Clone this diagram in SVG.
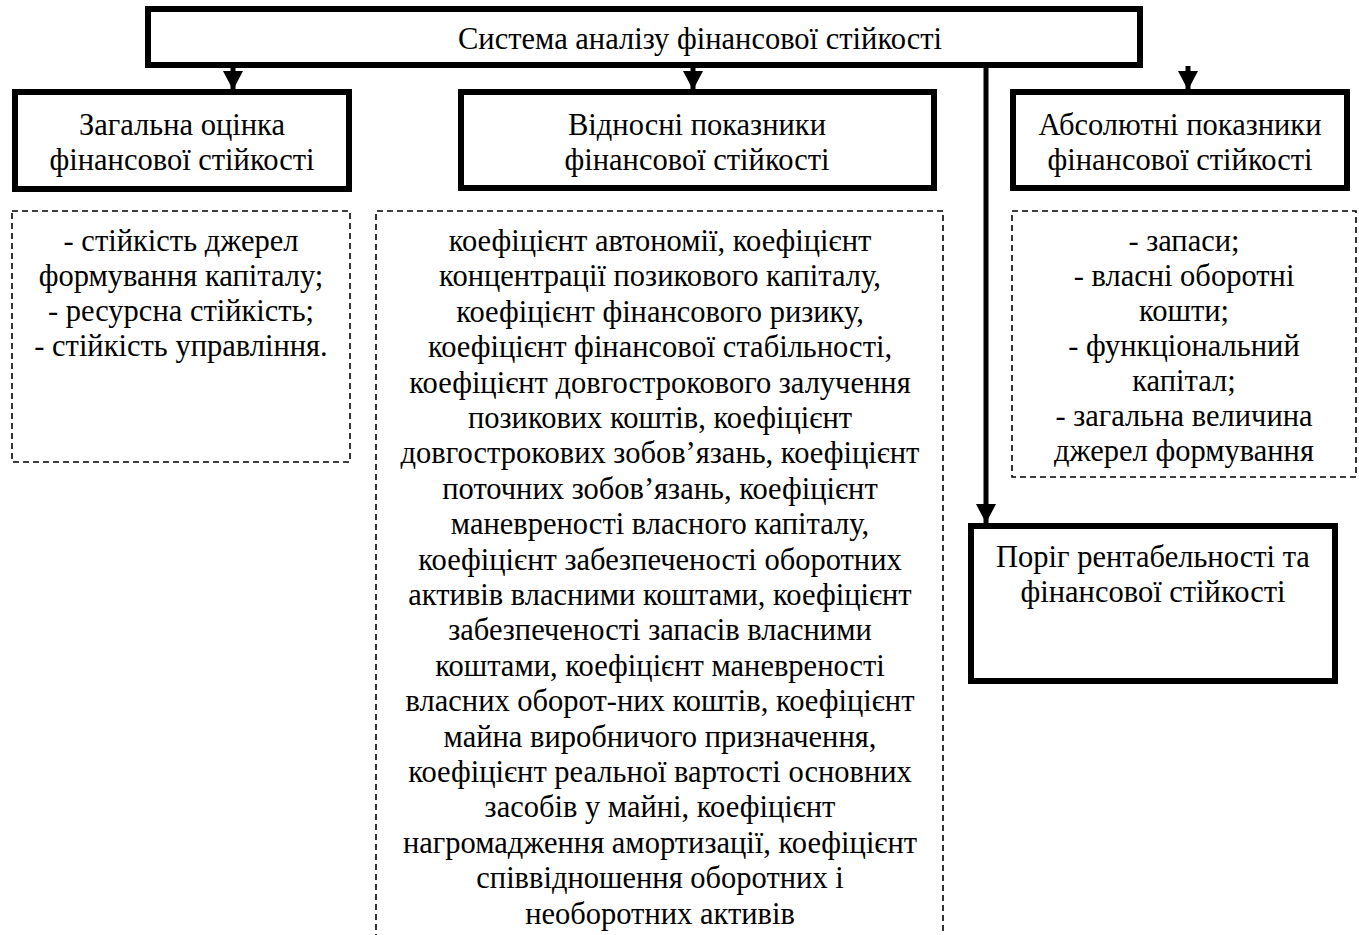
<svg xmlns="http://www.w3.org/2000/svg" width="1359" height="935" viewBox="0 0 1359 935">
<defs>
<style>
.box{fill:#fff;stroke:#000;stroke-width:6}
.dash{fill:none;stroke:#000;stroke-width:1.6;stroke-dasharray:6 4}
.t{font-family:"Liberation Serif","Times New Roman",serif;font-size:30.5px;fill:#000;text-anchor:middle}
.ln{stroke:#000;stroke-width:5;fill:none}
</style>
<marker id="ah" markerUnits="userSpaceOnUse" markerWidth="20" markerHeight="20" viewBox="0 0 18 18" refX="17" refY="9" orient="auto">
<path d="M0,0 L17,9 L0,18 Z" fill="#000"/>
</marker>
</defs>
<rect width="1359" height="935" fill="#fff"/>

<g id="connectors">
<line class="ln" x1="233" y1="66" x2="233" y2="90" marker-end="url(#ah)"/>
<line class="ln" x1="693" y1="66" x2="693" y2="90" marker-end="url(#ah)"/>
<line class="ln" x1="1188" y1="66" x2="1188" y2="90" marker-end="url(#ah)"/>
<line class="ln" x1="986" y1="66" x2="986" y2="523" marker-end="url(#ah)"/>
</g>

<g id="root">
<rect class="box" x="148" y="9" width="992" height="56"/>
<text class="t" x="700" y="49">Система аналізу фінансової стійкості</text>
</g>

<g id="general">
<rect class="box" x="15" y="92" width="334" height="97"/>
<text class="t" x="182" y="135">Загальна оцінка</text>
<text class="t" x="182" y="170">фінансової стійкості</text>
</g>

<g id="relative">
<rect class="box" x="461" y="92" width="473" height="96"/>
<text class="t" x="697" y="135">Відносні показники</text>
<text class="t" x="697" y="170">фінансової стійкості</text>
</g>

<g id="absolute">
<rect class="box" x="1013" y="92" width="334" height="96"/>
<text class="t" x="1180" y="135">Абсолютні показники</text>
<text class="t" x="1180" y="170">фінансової стійкості</text>
</g>

<g id="general-list">
<rect class="dash" x="12" y="211" width="338" height="251"/>
<text class="t" x="181" y="251">- стійкість джерел</text>
<text class="t" x="181" y="286">формування капіталу;</text>
<text class="t" x="181" y="321">- ресурсна стійкість;</text>
<text class="t" x="181" y="356">- стійкість управління.</text>
</g>

<g id="relative-list">
<path class="dash" d="M376,940 V211 H943 V940"/>
<text class="t" x="660" y="251">коефіцієнт автономії, коефіцієнт</text>
<text class="t" x="660" y="286.4">концентрації позикового капіталу,</text>
<text class="t" x="660" y="321.8">коефіцієнт фінансового ризику,</text>
<text class="t" x="660" y="357.2">коефіцієнт фінансової стабільності,</text>
<text class="t" x="660" y="392.6">коефіцієнт довгострокового залучення</text>
<text class="t" x="660" y="428">позикових коштів, коефіцієнт</text>
<text class="t" x="660" y="463.4">довгострокових зобов’язань, коефіцієнт</text>
<text class="t" x="660" y="498.8">поточних зобов’язань, коефіцієнт</text>
<text class="t" x="660" y="534.2">маневреності власного капіталу,</text>
<text class="t" x="660" y="569.6">коефіцієнт забезпеченості оборотних</text>
<text class="t" x="660" y="605">активів власними коштами, коефіцієнт</text>
<text class="t" x="660" y="640.4">забезпеченості запасів власними</text>
<text class="t" x="660" y="675.8">коштами, коефіцієнт маневреності</text>
<text class="t" x="660" y="711.2">власних оборот-них коштів, коефіцієнт</text>
<text class="t" x="660" y="746.6">майна виробничого призначення,</text>
<text class="t" x="660" y="782">коефіцієнт реальної вартості основних</text>
<text class="t" x="660" y="817.4">засобів у майні, коефіцієнт</text>
<text class="t" x="660" y="852.8">нагромадження амортизації, коефіцієнт</text>
<text class="t" x="660" y="888.2">співвідношення оборотних і</text>
<text class="t" x="660" y="923.6">необоротних активів</text>
</g>

<g id="absolute-list">
<rect class="dash" x="1012" y="211" width="344" height="266"/>
<text class="t" x="1184" y="251">- запаси;</text>
<text class="t" x="1184" y="286">- власні оборотні</text>
<text class="t" x="1184" y="321">кошти;</text>
<text class="t" x="1184" y="356">- функціональний</text>
<text class="t" x="1184" y="391">капітал;</text>
<text class="t" x="1184" y="426">- загальна величина</text>
<text class="t" x="1184" y="461">джерел формування</text>
</g>

<g id="threshold">
<rect class="box" x="971" y="526" width="364" height="155"/>
<text class="t" x="1153" y="567">Поріг рентабельності та</text>
<text class="t" x="1153" y="602">фінансової стійкості</text>
</g>
</svg>
